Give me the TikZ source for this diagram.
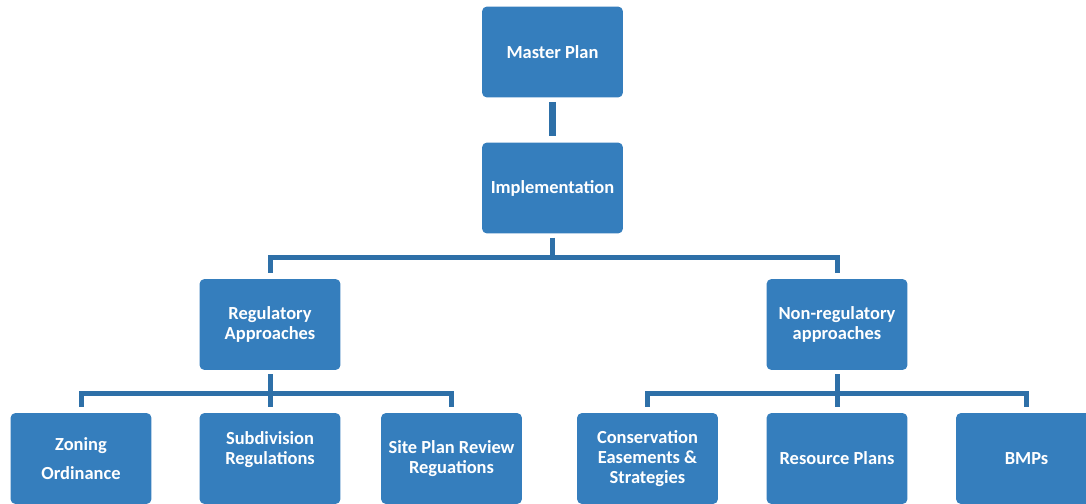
\documentclass[tikz,border=0pt]{standalone}
\usepackage{fontspec}
\setmainfont{Carlito}
\usepackage{xcolor}
\usepackage{tikz}
\usetikzlibrary{positioning}
\definecolor{boxblue}{RGB}{53,126,189}
\definecolor{linkblue}{RGB}{46,112,168}

\begin{document}
\begin{tikzpicture}[x=0.02cm,y=-0.02cm,
    box/.style={draw=none,fill=boxblue,rounded corners=0.1cm,minimum width=2.82cm,minimum height=1.82cm,
        align=center,text=white,font=\fontsize{10.5pt}{11.6pt}\selectfont\bfseries,inner sep=0pt},
    link/.style={draw=linkblue,line width=0.1cm,shorten <=0.08cm,shorten >=0.12cm}]
            \useasboundingbox (0,0) rectangle (1086,504);
            \clip (0,0) rectangle (1086,504);
            % top
            \node[box] (master) at (552.5,52) {Master Plan};
            \node[box] (impl) at (552.5,188) {Implementation};
            % second row
            \node[box] (reg) at (270,324.5) {Regulatory\\Approaches};
            \node[box] (nonreg) at (837,324.5) {Non-regulatory\\approaches};
            % bottom row
            \node[box] (zoning) at (81,458.5) {Zoning\\[0.16cm]Ordinance};
            \node[box] (subdiv) at (270,458.5) {Subdivision\\Regulations\\\mbox{}};
            \node[box] (siteplan) at (451.5,458.5) {Site Plan Review\\Reguations};
            \node[box] (conserv) at (647.5,458.5) {Conservation\\Easements \&\\Strategies};
            \node[box] (resource) at (837,458.5) {Resource Plans};
            \node[box] (bmps) at (1026.5,458.5) {BMPs};
            % connectors
            \draw[link,line width=0.15cm] (master) -- (impl);
            \draw[link] (impl.south) -- ++(0,23.5) -| (reg.north);
            \draw[link] (impl.south) -- ++(0,23.5) -| (nonreg.north);
            \draw[link] (reg.south) -- ++(0,23) -| (zoning.north);
            \draw[link] (reg.south) -- ++(0,23) -| (siteplan.north);
            \draw[link] (reg) -- (subdiv);
            \draw[link] (nonreg.south) -- ++(0,23) -| (conserv.north);
            \draw[link] (nonreg.south) -- ++(0,23) -| (bmps.north);
            \draw[link] (nonreg) -- (resource);
        \end{tikzpicture}
\end{document}
